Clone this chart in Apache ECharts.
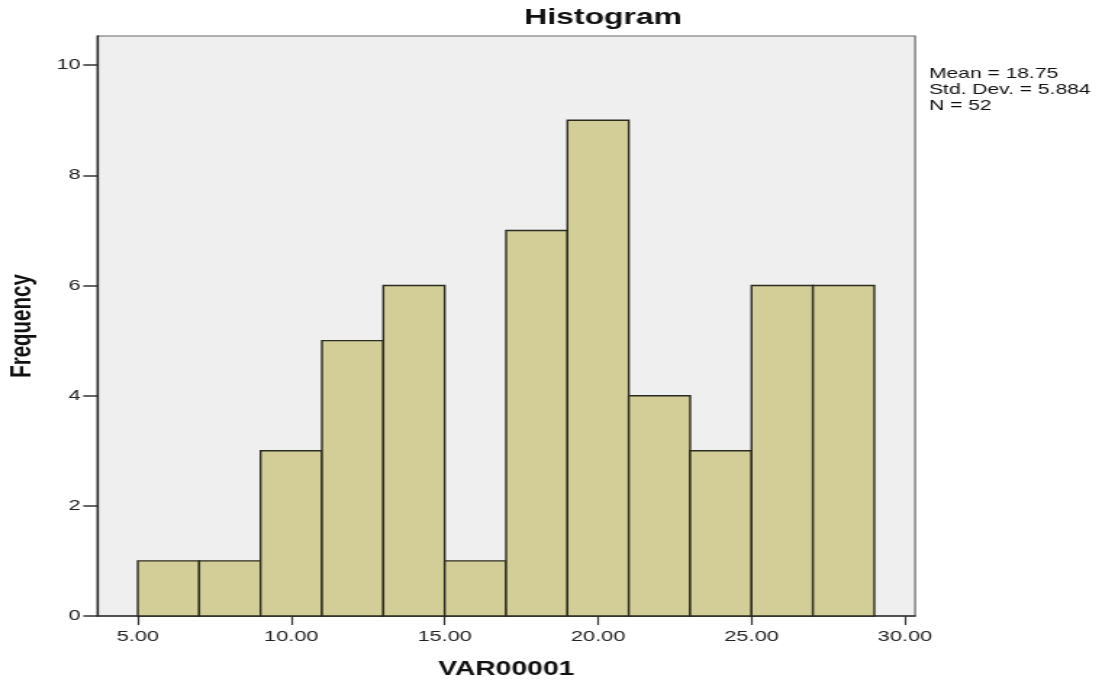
<!DOCTYPE html>
<html><head><meta charset="utf-8">
<script src="https://cdn.jsdelivr.net/npm/echarts@6/dist/echarts.min.js"></script>
<style>
html,body{margin:0;padding:0;background:#fff;overflow:hidden;width:1101px;height:681px}
#wrap{width:1101px;height:681px;overflow:hidden}
#c{width:759px;height:681px;transform:scaleX(1.45);transform-origin:0 0}
</style>
</head><body><div id="wrap"><div id="c"></div></div>
<script>
const binStarts = [5, 7, 9, 11, 13, 15, 17, 19, 21, 23, 25, 27];
const binWidth = 2;
const frequencies = [1, 1, 3, 5, 6, 1, 7, 9, 4, 3, 6, 6];
const xTicks = [5, 10, 15, 20, 25, 30];
const yTicks = [0, 2, 4, 6, 8, 10];
const statsLines = ['Mean = 18.75', 'Std. Dev. = 5.884', 'N = 52'];

const data = binStarts.map((s, i) => [s, s + binWidth, frequencies[i]]);
const chart = echarts.init(document.getElementById('c'), null, {renderer: 'canvas'});
const font = '"Liberation Sans", Arial, sans-serif';
chart.setOption({
  animation: false,
  backgroundColor: '#fff',
  graphic: [{
    type: 'text', x: 416, y: 18,
    style: {text: 'Histogram', font: 'bold 22px ' + font, fill: '#111', align: 'center', verticalAlign: 'middle'}
  }, {
    type: 'text', x: 640.7, y: 66,
    style: {text: statsLines.join('\n'), font: '14.5px ' + font, fill: '#111', lineHeight: 16}
  }],
  grid: {
    left: 67.1, top: 36, width: 564, height: 580,
    containLabel: false, outerBoundsMode: 'none',
    show: true, backgroundColor: '#efefef', borderColor: '#666', borderWidth: 1.2
  },
  xAxis: {
    type: 'value', min: 3.68, max: 30.33,
    name: 'VAR00001', nameLocation: 'middle', nameGap: 44,
    nameTextStyle: {fontFamily: font, fontSize: 19.5, fontWeight: 'bold', color: '#111'},
    axisLine: {show: true, lineStyle: {color: '#333', width: 1.5}},
    axisTick: {show: true, customValues: xTicks, length: 9, lineStyle: {color: '#333', width: 1.2}},
    axisLabel: {customValues: xTicks, formatter: v => v.toFixed(2), fontFamily: font, fontSize: 15, color: '#222', margin: 13},
    splitLine: {show: false}
  },
  yAxis: {
    type: 'value', min: 0, max: 10.53,
    name: 'Frequency', nameLocation: 'middle', nameGap: 41, nameRotate: 90,
    nameTextStyle: {fontFamily: font, fontSize: 20.5, fontWeight: 'bold', color: '#111'},
    axisLine: {show: true, lineStyle: {color: '#222', width: 1.3}},
    axisTick: {show: true, customValues: yTicks, length: 9.7, lineStyle: {color: '#333', width: 1.5}},
    axisLabel: {customValues: yTicks, fontFamily: font, fontSize: 15, color: '#222', margin: 11.5},
    splitLine: {show: false}
  },
  series: [{
    type: 'custom',
    data: data,
    renderItem: function (params, api) {
      const p0 = api.coord([api.value(0), api.value(2)]);
      const p1 = api.coord([api.value(1), 0]);
      return {
        type: 'rect',
        shape: {x: p0[0], y: p0[1], width: p1[0] - p0[0], height: p1[1] - p0[1]},
        style: {fill: '#d3ce97', stroke: '#2b2b20', lineWidth: 1.4}
      };
    }
  }]
});
</script></body></html>
